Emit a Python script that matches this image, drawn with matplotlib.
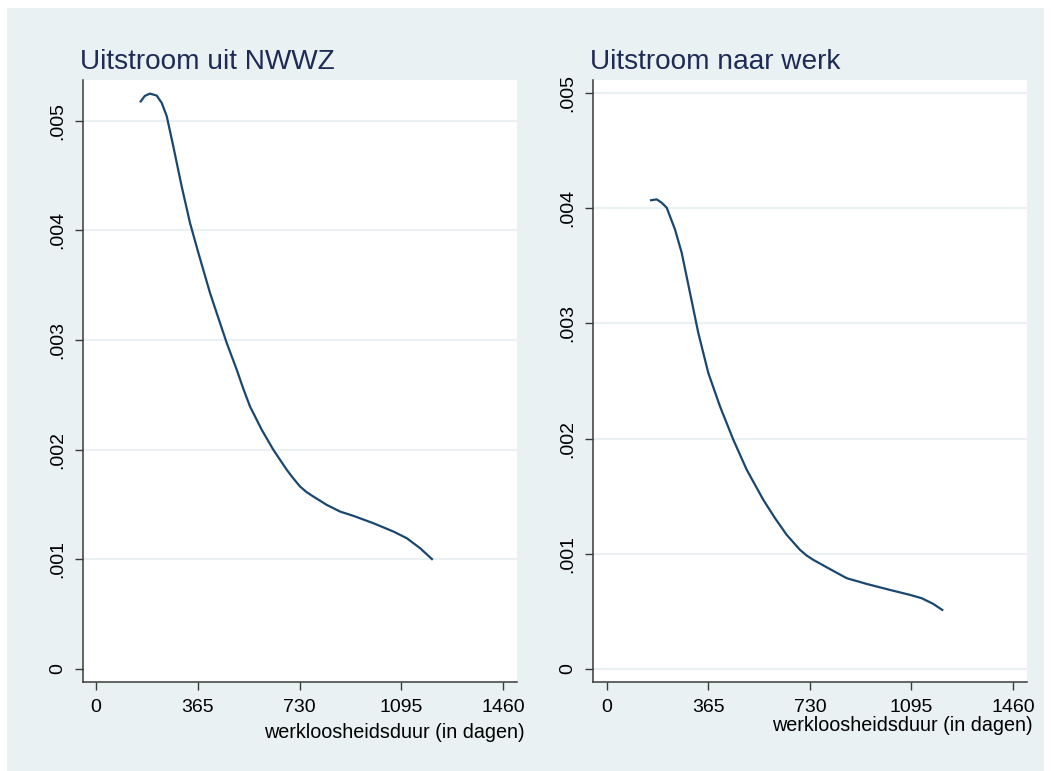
import numpy as np
import matplotlib
matplotlib.use("Agg")
import matplotlib.pyplot as plt
from matplotlib.patches import Rectangle

plt.rcParams['font.family'] = ['Liberation Sans', 'DejaVu Sans']

# gegevens
dagen_nwwz = [157.8, 175, 193.6, 217.5, 235.6, 253.5, 277, 307, 337, 367, 408.7, 444.6,
              468.6, 504.5, 528, 552, 594, 635.7, 683.7, 708, 731.5, 755, 779, 827,
              874.8, 922.6, 994, 1066, 1114, 1161.7, 1207]
uit_nwwz = [0.005167, 0.005225, 0.005246, 0.005228, 0.005161, 0.005040, 0.004766,
            0.004401, 0.004066, 0.003793, 0.003428, 0.003154, 0.002972, 0.002728,
            0.002555, 0.002393, 0.002181, 0.001998, 0.001816, 0.001735, 0.001663,
            0.001612, 0.001572, 0.001496, 0.001435, 0.001396, 0.001329, 0.001253,
            0.001192, 0.001101, 0.000995]

dagen_werk = [155.6, 179.6, 197.6, 215.6, 245.4, 269.4, 299.3, 329, 365, 407, 454.8,
              503, 562.6, 604.6, 646.6, 694.4, 718, 742.2, 796, 862, 934, 1017.7, 1089.6,
              1131.6, 1173, 1209]
naar_werk = [0.004066, 0.004075, 0.004046, 0.004003, 0.003814, 0.003612, 0.003264,
             0.002917, 0.002569, 0.002279, 0.001990, 0.001729, 0.001468, 0.001309,
             0.001164, 0.001034, 0.000985, 0.000947, 0.000875, 0.000788, 0.000738,
             0.000686, 0.000643, 0.000614, 0.000565, 0.000507]

x_ticks = [0, 365, 730, 1095, 1460]
y_ticks = [0, 0.001, 0.002, 0.003, 0.004, 0.005]
y_labels = ["0", ".001", ".002", ".003", ".004", ".005"]

BG = '#e9f1f3'
LIJN = '#1a476f'
TITEL = '#1e2b55'
AS = '#3a3a3a'

W, H = 1051, 771
fig = plt.figure(figsize=(W / 100, H / 100), dpi=100, facecolor='white')
fig.patches.append(Rectangle((7 / W, 0), (1044 - 7) / W, (H - 8) / H,
                             transform=fig.transFigure, facecolor=BG,
                             edgecolor='none', zorder=-10))


def paneel(links, titel, x, y, xlim, ylim, label_y, grid0):
    ax = fig.add_axes([links / W, (H - 682) / H, 434 / W, 602 / H])
    ax.set_facecolor('white')
    ax.plot(x, y, color=LIJN, lw=1.6, solid_capstyle='butt', solid_joinstyle='round')
    ax.set_xlim(xlim)
    ax.set_ylim(ylim)
    ax.set_xticks(x_ticks)
    ax.set_yticks(y_ticks)
    ax.set_yticklabels(y_labels)
    for s in ['top', 'right']:
        ax.spines[s].set_visible(False)
    for s in ['left', 'bottom']:
        ax.spines[s].set_color(AS)
        ax.spines[s].set_linewidth(1.1)
    ax.tick_params(axis='both', length=6, width=1.0, color=AS, labelsize=14,
                   pad=6)
    ax.tick_params(axis='y', labelrotation=90)
    for lab in ax.get_yticklabels():
        lab.set_va('center')
    ax.yaxis.grid(True, color=BG, lw=1.5)
    ax.set_axisbelow(True)
    if not grid0:
        ax.get_ygridlines()[0].set_visible(False)
    ax.set_xlabel("werkloosheidsduur (in dagen)", fontsize=14.2, ha='right', va='top')
    ax.xaxis.set_label_coords(label_y[0], label_y[1])
    ax.text(-0.007, 1.018, titel, transform=ax.transAxes, fontsize=20.2,
            color=TITEL, ha='left', va='baseline')
    return ax


paneel(83, "Uitstroom uit NWWZ", dagen_nwwz, uit_nwwz, (-46.6, 1509),
       (-0.000119, 0.00537), (1.018, -0.068), False)
paneel(593, "Uitstroom naar werk", dagen_werk, naar_werk, (-49.2, 1510),
       (-0.000113, 0.005111), (1.014, -0.057), True)

fig.savefig("out.png", dpi=100, facecolor=fig.get_facecolor())
